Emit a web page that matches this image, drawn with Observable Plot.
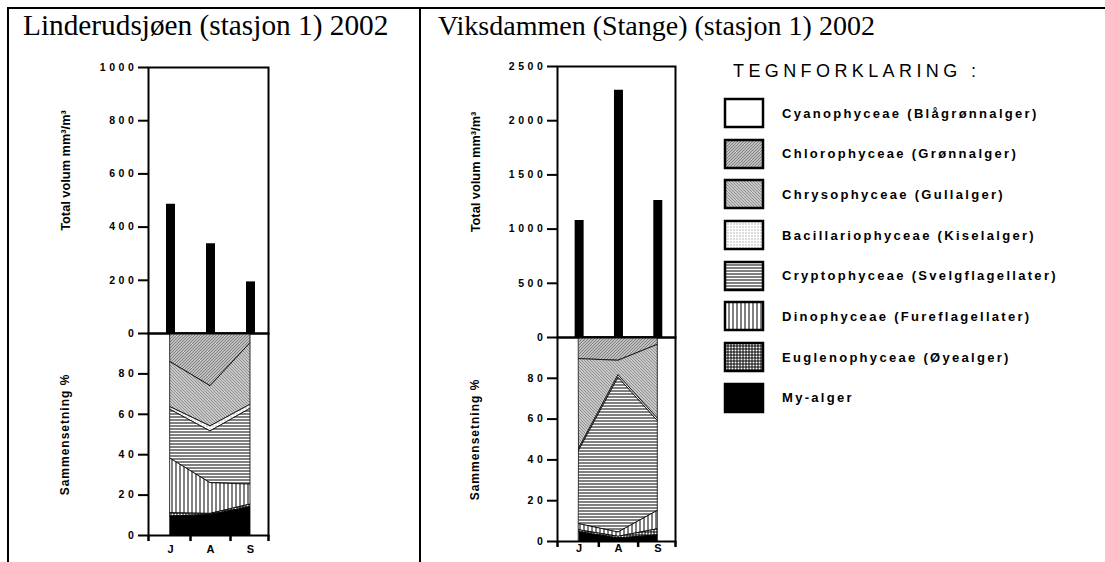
<!DOCTYPE html>
<html><head><meta charset="utf-8">
<script src="https://cdn.jsdelivr.net/npm/d3@7"></script>
<script src="https://cdn.jsdelivr.net/npm/@observablehq/plot@0.6"></script>
<style>
body{margin:0;background:#fff;}
#root{position:relative;width:1105px;height:562px;overflow:hidden;background:#fff;font-family:"Liberation Sans",Arial,sans-serif;}
.ln{position:absolute;background:#000;}
.title{position:absolute;font-family:"Liberation Serif","Times New Roman",serif;color:#000;white-space:nowrap;line-height:1;}
.legtitle{position:absolute;left:733px;top:62px;font-family:"Liberation Sans",Arial,sans-serif;font-size:18px;letter-spacing:4.4px;white-space:nowrap;line-height:1;}
#leg{position:absolute;left:725px;top:99px;}
.lg-swatches{margin:0 !important;font-family:"Liberation Sans",Arial,sans-serif !important;font-size:13px !important;font-weight:bold;letter-spacing:2.3px;color:#000;}
.lg-swatch{display:flex !important;align-items:center !important;height:28px;padding-bottom:12.7px !important;margin:0 !important;white-space:nowrap;}
.lg-swatch svg{margin-right:19px !important;overflow:visible !important;flex-shrink:0;}
.lg-swatch svg rect{stroke:#000;stroke-width:2.5px;}
</style>
</head><body>
<div id="root">
<svg id="defs" width="0" height="0" style="position:absolute;left:0;top:0" shape-rendering="crispEdges"><defs></defs></svg>
<div class="ln" style="left:7px;top:7px;width:1098px;height:2px"></div>
<div class="ln" style="left:7px;top:7px;width:2px;height:555px"></div>
<div class="ln" style="left:419px;top:7px;width:2px;height:555px"></div>
<div class="title" style="left:23px;top:11px;font-size:29.3px">Linderudsjøen (stasjon 1) 2002</div>
<div class="title" style="left:438px;top:12px;font-size:28px">Viksdammen (Stange) (stasjon 1) 2002</div>
<div class="legtitle">TEGNFORKLARING :</div>
<div id="leg"></div>
</div>
<script>
// ---------- data ----------
const months = ["J", "A", "S"];
const monthPos = [0, 1, 2];
const classes = [
  "Cyanophyceae (Blågrønnalger)",
  "Chlorophyceae (Grønnalger)",
  "Chrysophyceae (Gullalger)",
  "Bacillariophyceae (Kiselalger)",
  "Cryptophyceae (Svelgflagellater)",
  "Dinophyceae (Fureflagellater)",
  "Euglenophyceae (Øyealger)",
  "My-alger"
];
const patternKeys = ["cyano", "chloro", "chryso", "bacil", "crypto", "dino", "eugl", "my"];

// Total volume mm3/m3 (J, A, S)
const linderudVolume = [486, 337, 194];
const viksVolume = [1079, 2282, 1264];
const linderudTicks = [0, 200, 400, 600, 800, 1000];
const viksTicks = [0, 500, 1000, 1500, 2000, 2500];
const pctTicks = [0, 20, 40, 60, 80];

// Composition % (J, A, S), one array per class (legend order)
const linderudCyano      = [0, 0, 0];
const linderudChloro     = [14.2, 26.1, 4.8];
const linderudChryso     = [22.3, 19.9, 30.5];
const linderudBacil      = [1.3, 2.5, 2.0];
const linderudCrypto     = [24.2, 25.6, 37.5];
const linderudDino       = [27.0, 15.2, 9.9];
const linderudEugl       = [1.6, 0.5, 1.3];
const linderudMy         = [9.4, 10.2, 14.0];

const viksCyano          = [0, 0, 0];
const viksChloro         = [10.6, 11.4, 3.6];
const viksChryso         = [43.9, 7.1, 36.2];
const viksBacil          = [1.0, 1.2, 1.2];
const viksCrypto         = [36.0, 75.9, 44.0];
const viksDino           = [3.0, 2.1, 9.0];
const viksEugl           = [1.0, 0.8, 3.0];
const viksMy             = [4.5, 1.5, 3.0];

// ---------- fill patterns ----------
const tiles = {
  cyano:  {w: 4, h: 4, bg: "#fff", px: []},
  chloro: {w: 3, h: 3, bg: "#fff", px: [[0,2,1,1,"#000"],[1,1,1,1,"#000"],[2,0,1,1,"#000"]]},
  chryso: {w: 3, h: 3, bg: "#fff", px: [[0,0,1,1,"#222"],[1,1,1,1,"#222"],[2,2,1,1,"#222"]]},
  bacil:  {w: 3, h: 3, bg: "#fff", px: [[0,0,1,1,"#777"]]},
  crypto: {w: 3, h: 3, bg: "#fff", px: [[0,0,3,1,"#000"]]},
  dino:   {w: 4, h: 4, bg: "#fff", px: [[0,0,1,4,"#000"]]},
  eugl:   {w: 3, h: 3, bg: "#fff", px: [[0,0,3,1,"#000"],[0,0,1,3,"#000"]]},
  my:     {w: 4, h: 4, bg: "#000", px: []}
};
const defs = d3.select("#defs defs");
for (const k of patternKeys) {
  const t = tiles[k];
  const p = defs.append("pattern").attr("id", `p-${k}`).attr("patternUnits", "userSpaceOnUse")
    .attr("width", t.w).attr("height", t.h).attr("patternTransform", "translate(-0.5,-0.5)");
  p.append("rect").attr("width", t.w).attr("height", t.h).attr("fill", t.bg);
  for (const [x, y, w, h, c] of t.px) p.append("rect").attr("x", x).attr("y", y).attr("width", w).attr("height", h).attr("fill", c);
}
const fillPatterns = patternKeys.map(k => `url(#p-${k})`);

// ---------- build ----------
const root = document.getElementById("root");
const FONT = '"Liberation Sans", Arial, sans-serif';
const stackOrder = classes.slice().reverse();

function compTable(series) {
  const rows = [];
  classes.forEach((c, ci) => monthPos.forEach((p, mi) => rows.push({cls: c, pos: p, pct: series[ci][mi]})));
  return rows;
}

function panel(o) {
  const W = o.x1 + 14;
  const vol = monthPos.map((p, i) => ({pos: p, value: o.volume[i]}));
  const yMax = o.ticks[o.ticks.length - 1];
  const upper = Plot.plot({
    width: W, height: o.yZero + 1,
    marginLeft: o.x0, marginRight: W - o.x1, marginTop: o.yTop, marginBottom: 1,
    style: {position: "absolute", left: o.left + "px", top: "0px", background: "transparent", overflow: "visible", fontFamily: FONT, letterSpacing: "3.6px"},
    x: {domain: [-0.55, 2.45], axis: null},
    y: {domain: [0, yMax], axis: null},
    marks: [
      Plot.ruleX(vol, {x: "pos", y1: () => 0, y2: "value", stroke: "#000", strokeWidth: 9}),
      Plot.frame({stroke: "#000", strokeWidth: 2}),
      Plot.axisY({ticks: o.ticks, tickSize: 10, tickPadding: 1, strokeWidth: 2, fontWeight: "bold", fontSize: 10.5, tickFormat: d => String(d), label: null}),
      Plot.text(["Total volum mm³/m³"], {frameAnchor: "left", textAnchor: "middle", lineAnchor: "middle", dx: o.labDx, dy: -30, rotate: -90, fontWeight: "bold", fontSize: 12.8})
    ]
  });
  const lower = Plot.plot({
    width: W, height: 562 - o.yZero,
    marginLeft: o.x0, marginRight: W - o.x1, marginTop: 0, marginBottom: 562 - o.yBottom,
    style: {position: "absolute", left: o.left + "px", top: o.yZero + "px", background: "transparent", overflow: "visible", fontFamily: FONT, letterSpacing: "3.6px"},
    x: {domain: [-0.55, 2.45], axis: null},
    y: {domain: [0, 100], axis: null},
    color: {type: "ordinal", domain: classes, range: fillPatterns},
    marks: [
      Plot.areaY(compTable(o.comp), {x: "pos", y: "pct", z: "cls", fill: "cls", order: stackOrder, stroke: "#000", strokeWidth: 0.8}),
      Plot.frame({stroke: "#000", strokeWidth: 2}),
      Plot.axisY({ticks: pctTicks, tickSize: 10, tickPadding: 1, strokeWidth: 2, fontWeight: "bold", fontSize: 10.5, label: null}),
      Plot.axisX({ticks: [-0.55, 0.5, 1.5, 2.45], tickSize: 6, strokeWidth: 2.5, tickFormat: () => "", label: null}),
      Plot.text(months, {x: (d, i) => monthPos[i], text: d => d, frameAnchor: "bottom", textAnchor: "middle", lineAnchor: "middle", dy: o.monDy, fontWeight: "bold", fontSize: 11}),
      Plot.text(["Sammensetning %"], {frameAnchor: "left", textAnchor: "middle", lineAnchor: "middle", dx: o.labDx, rotate: -90, fontWeight: "bold", fontSize: 12})
    ]
  });
  root.append(upper, lower);
  for (const s of [upper, lower]) {
    d3.select(s).selectAll('g[aria-label="text"] text')
      .style("letter-spacing", function(){ return this.textContent.startsWith("Samm") ? "1px" : "0px"; });
  }
}

panel({left: 0, x0: 148, x1: 268, yTop: 67, yZero: 333, yBottom: 535, volume: linderudVolume, ticks: linderudTicks,
  comp: [linderudCyano, linderudChloro, linderudChryso, linderudBacil, linderudCrypto, linderudDino, linderudEugl, linderudMy],
  labDx: -83, monDy: 13.5});
panel({left: 420, x0: 137, x1: 255, yTop: 66, yZero: 337, yBottom: 541, volume: viksVolume, ticks: viksTicks,
  comp: [viksCyano, viksChloro, viksChryso, viksBacil, viksCrypto, viksDino, viksEugl, viksMy],
  labDx: -82, monDy: 6.5});

const leg = Plot.legend({
  color: {type: "ordinal", domain: classes, range: fillPatterns},
  legend: "swatches", columns: 1, swatchWidth: 38, swatchHeight: 28, className: "lg"
});
document.getElementById("leg").append(leg);
</script>
</body></html>
